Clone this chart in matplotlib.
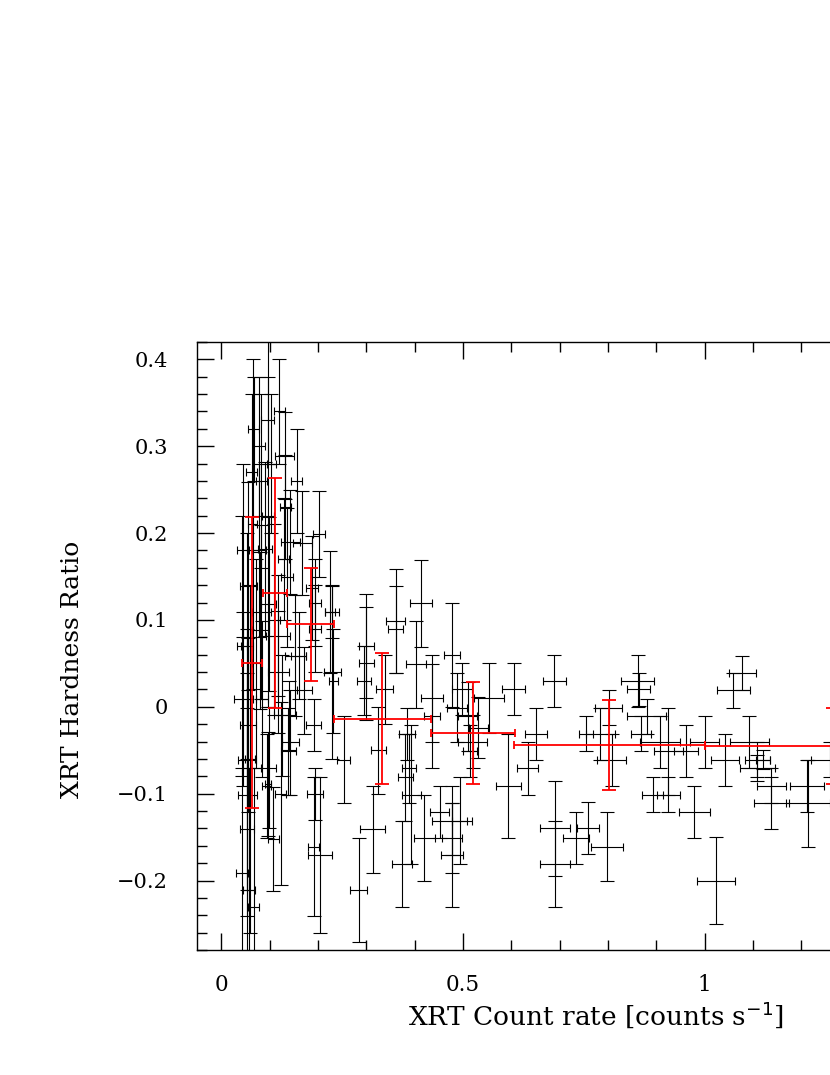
"""Swift/XRT hardness ratio against count rate, single points plus binned means."""

import matplotlib

matplotlib.use("Agg")
import matplotlib.pyplot as plt  # noqa: E402
from matplotlib.ticker import FuncFormatter, MultipleLocator  # noqa: E402

# individual snapshots: count rate, half-width, hardness ratio, error
black_x = [
    0.065, 0.120, 0.096, 0.067, 0.078, 0.156, 0.131, 0.202, 0.063, 0.083,
    0.104, 0.133, 0.078, 0.143, 0.188, 0.168, 0.091, 0.129, 0.136, 0.056,
    0.194, 0.225, 0.098, 0.081, 0.053, 0.118, 0.153, 0.194, 0.118, 0.172,
    0.084, 0.125, 0.191, 0.053, 0.098, 0.143, 0.139, 0.094, 0.123, 0.056,
    0.054, 0.194, 0.046, 0.232, 0.053, 0.108, 0.043, 0.058, 0.067, 0.205,
    0.191, 0.097, 0.043, 0.083, 0.140, 0.160, 0.229, 0.230, 0.253, 0.300,
    0.300, 0.295, 0.361, 0.361, 0.338, 0.325, 0.313, 0.374, 0.284, 0.413,
    0.403, 0.436, 0.436, 0.477, 0.498, 0.553, 0.605, 0.689, 0.651, 0.634,
    0.594, 0.754, 0.784, 0.801, 0.808, 0.691, 0.691, 0.734, 0.758, 0.797,
    0.477, 0.477, 0.477, 0.493, 0.452, 0.420, 0.393, 0.532, 0.515, 0.384,
    0.388, 0.488, 0.510, 0.520, 0.861, 0.863, 0.880, 0.868, 0.908, 0.925,
    0.961, 1.000, 1.042, 1.092, 1.078, 1.059, 1.109, 1.120, 1.109, 1.138,
    1.138, 1.211, 1.213, 1.023, 0.978, 0.892, 0.925, 1.260, 0.381, 0.097,
    0.045, 0.073, 0.110, 0.060,
]
black_xerr = [
    0.010, 0.011, 0.013, 0.012, 0.012, 0.012, 0.020, 0.012, 0.012, 0.012,
    0.010, 0.012, 0.015, 0.020, 0.012, 0.020, 0.015, 0.012, 0.012, 0.018,
    0.012, 0.010, 0.016, 0.018, 0.013, 0.025, 0.022, 0.012, 0.022, 0.015,
    0.012, 0.015, 0.016, 0.018, 0.015, 0.018, 0.015, 0.010, 0.012, 0.017,
    0.020, 0.016, 0.020, 0.010, 0.015, 0.012, 0.012, 0.012, 0.012, 0.025,
    0.012, 0.006, 0.010, 0.020, 0.015, 0.015, 0.015, 0.018, 0.013, 0.015,
    0.015, 0.015, 0.020, 0.015, 0.017, 0.015, 0.025, 0.020, 0.018, 0.023,
    0.020, 0.023, 0.016, 0.016, 0.020, 0.031, 0.024, 0.024, 0.023, 0.022,
    0.025, 0.015, 0.030, 0.027, 0.030, 0.031, 0.031, 0.027, 0.023, 0.033,
    0.041, 0.020, 0.023, 0.015, 0.020, 0.022, 0.020, 0.020, 0.015, 0.017,
    0.015, 0.020, 0.020, 0.030, 0.034, 0.023, 0.040, 0.020, 0.041, 0.030,
    0.025, 0.030, 0.029, 0.040, 0.028, 0.034, 0.026, 0.014, 0.037, 0.036,
    0.030, 0.035, 0.045, 0.040, 0.032, 0.021, 0.024, 0.040, 0.015, 0.012,
    0.012, 0.010, 0.012, 0.010,
]
black_y = [
    0.210, 0.340, 0.330, 0.320, 0.300, 0.260, 0.289, 0.199, 0.270, 0.260,
    0.280, 0.230, 0.180, 0.190, 0.137, 0.189, 0.182, 0.170, 0.149, 0.139,
    0.120, 0.109, 0.118, 0.088, 0.070, 0.082, 0.059, 0.090, 0.040, 0.019,
    0.009, -0.010, -0.021, -0.061, -0.070, -0.041, -0.051, -0.091, -0.100, -0.021,
    -0.101, -0.100, 0.009, 0.030, -0.141, -0.152, -0.191, -0.211, -0.230, -0.171,
    -0.161, -0.089, 0.070, 0.109, -0.010, 0.059, 0.109, 0.040, -0.061, 0.070,
    0.050, 0.030, 0.099, 0.089, 0.020, -0.050, -0.141, -0.181, -0.211, 0.119,
    0.049, 0.010, -0.011, 0.060, 0.020, 0.010, 0.020, 0.030, -0.031, -0.071,
    -0.091, -0.031, -0.031, -0.001, -0.061, -0.140, -0.181, -0.151, -0.140, -0.161,
    -0.131, -0.151, -0.171, -0.131, -0.121, -0.151, -0.101, -0.024, -0.051, -0.031,
    -0.071, -0.001, -0.011, -0.040, 0.030, 0.020, -0.011, -0.031, -0.041, -0.051,
    -0.051, -0.041, -0.061, -0.041, 0.039, 0.019, -0.061, -0.061, -0.071, -0.111,
    -0.091, -0.091, -0.111, -0.200, -0.121, -0.101, -0.101, -0.061, -0.081, 0.220,
    0.180, 0.050, 0.100, -0.060,
]
black_yerr = [
    0.190, 0.060, 0.050, 0.060, 0.080, 0.060, 0.050, 0.050, 0.090, 0.100,
    0.080, 0.060, 0.100, 0.060, 0.060, 0.060, 0.100, 0.070, 0.080, 0.120,
    0.050, 0.070, 0.100, 0.090, 0.130, 0.070, 0.070, 0.050, 0.070, 0.050,
    0.090, 0.070, 0.030, 0.150, 0.070, 0.060, 0.050, 0.060, 0.105, 0.100,
    0.140, 0.030, 0.100, 0.060, 0.140, 0.060, 0.120, 0.140, 0.160, 0.090,
    0.080, 0.060, 0.150, 0.100, 0.040, 0.050, 0.030, 0.100, 0.050, 0.060,
    0.065, 0.040, 0.060, 0.050, 0.040, 0.050, 0.050, 0.050, 0.060, 0.050,
    0.050, 0.050, 0.060, 0.060, 0.030, 0.040, 0.030, 0.030, 0.030, 0.030,
    0.060, 0.020, 0.030, 0.020, 0.030, 0.055, 0.050, 0.030, 0.030, 0.040,
    0.040, 0.040, 0.060, 0.050, 0.030, 0.050, 0.080, 0.035, 0.030, 0.030,
    0.040, 0.040, 0.040, 0.030, 0.030, 0.019, 0.020, 0.020, 0.030, 0.050,
    0.030, 0.030, 0.030, 0.030, 0.020, 0.020, 0.020, 0.011, 0.015, 0.030,
    0.020, 0.030, 0.050, 0.050, 0.030, 0.020, 0.020, 0.020, 0.050, 0.220,
    0.100, 0.120, 0.110, 0.200,
]

# binned averages
red_x = [0.064, 0.111, 0.185, 0.333, 0.520, 0.803, 1.265]
red_xerr = [0.021, 0.025, 0.048, 0.100, 0.087, 0.197, 0.265]
red_y = [0.051, 0.131, 0.095, -0.0135, -0.030, -0.044, -0.045]
red_yerr = [0.167, 0.132, 0.065, 0.075, 0.059, 0.052, 0.044]


def _fmt(v, _pos):
    if abs(v) < 1e-9:
        return "0"
    return f"{v:g}".replace("-", "\u2212")


def plot_hr():
    plt.rcParams.update({"font.family": "DejaVu Serif", "axes.linewidth": 1.0})
    fig = plt.figure(figsize=(8.3, 10.75), dpi=100)
    # axes run past the right edge, as in the cropped original
    ax = fig.add_axes([197 / 830, 125 / 1075, (874 - 197) / 830, 608 / 1075])

    for xs, ys, xe, ye, color, lw, z in (
        (black_x, black_y, black_xerr, black_yerr, "black", 0.8, 2),
        (red_x, red_y, red_xerr, red_yerr, "#ff0000", 1.3, 3),
    ):
        ax.errorbar(xs, ys, yerr=ye, fmt="none", ecolor=color, elinewidth=lw,
                    capsize=5.2, capthick=lw, zorder=z)
        ax.errorbar(xs, ys, xerr=xe, fmt="none", ecolor=color, elinewidth=lw,
                    capsize=2.8, capthick=lw, zorder=z)

    ax.set_xlim(-0.05, 1.35)
    ax.set_ylim(-0.28, 0.42)
    ax.xaxis.set_major_locator(MultipleLocator(0.5))
    ax.xaxis.set_minor_locator(MultipleLocator(0.1))
    ax.yaxis.set_major_locator(MultipleLocator(0.1))
    ax.yaxis.set_minor_locator(MultipleLocator(0.02))
    ax.xaxis.set_major_formatter(FuncFormatter(_fmt))
    ax.yaxis.set_major_formatter(FuncFormatter(_fmt))
    ax.tick_params(which="both", direction="in", top=True, right=True, width=1.0)
    ax.tick_params(which="major", length=12)
    ax.tick_params(which="minor", length=7)
    ax.tick_params(axis="x", which="major", pad=17, labelsize=15.5)
    ax.tick_params(axis="y", which="major", pad=21, labelsize=15)

    xl = ax.set_xlabel("XRT Count rate [counts s$^{-1}$]", fontsize=19)
    xl.set_ha("left")
    xl.set_va("center")
    ax.xaxis.set_label_coords((408 - 197) / 677, (950 - 1015) / 608)
    yl = ax.set_ylabel("XRT Hardness Ratio", fontsize=18)
    yl.set_va("center")
    ax.yaxis.set_label_coords((72 - 197) / 677, (950 - 669) / 608)

    fig.savefig("out.png", dpi=100)
    plt.close(fig)


if __name__ == "__main__":
    plot_hr()
